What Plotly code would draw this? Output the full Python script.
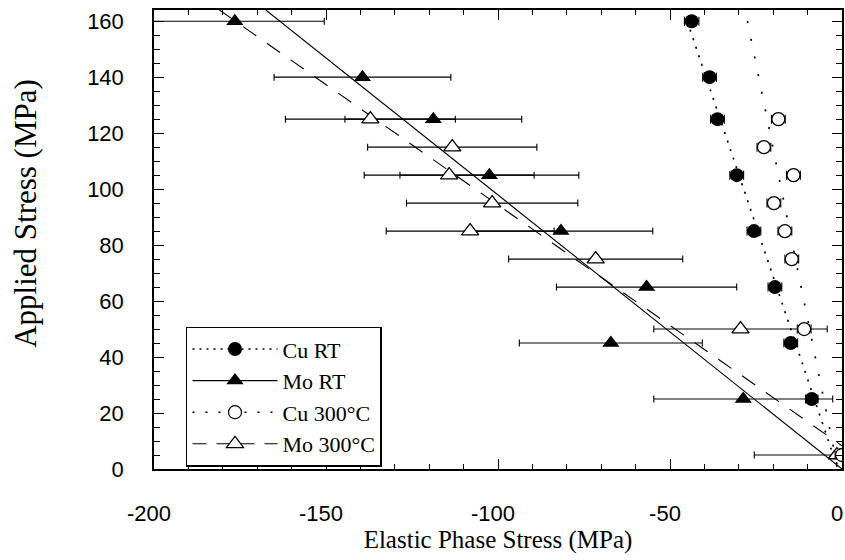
import plotly.graph_objects as go

# ---------------- data ----------------
cu_rt_y = [160, 140, 125, 105, 85, 65, 45, 25]
cu_rt_x = [-43.7, -38.5, -36.2, -30.6, -25.6, -19.5, -14.9, -8.8]
cu_rt_err = [2.1, 2.0, 2.0, 2.0, 2.0, 2.0, 2.0, 1.8]

mo_rt_y = [160, 140, 125, 105, 85, 65, 45, 25]
mo_rt_x = [-176.5, -139.4, -118.8, -102.5, -81.7, -56.8, -67.2, -28.7]
mo_rt_err = [26.0, 25.7, 25.7, 26.0, 26.7, 26.2, 26.6, 26.0]

cu300_y = [125, 115, 105, 95, 85, 75, 50, 5]
cu300_x = [-18.5, -22.7, -14.1, -19.8, -16.6, -14.6, -11.0, 0.0]
cu300_err = [2.0, 2.0, 2.0, 2.0, 2.0, 2.0, 2.0, 2.0]

mo300_y = [125, 115, 105, 95, 85, 75, 50, 5]
mo300_x = [-137.1, -113.3, -114.2, -101.7, -108.1, -71.6, -29.5, -1.5]
mo300_err = [24.7, 24.6, 24.7, 24.9, 24.4, 25.3, 25.2, 24.0]

# linear fit lines (end points)
cu_rt_fit_x = [-45.0, -1.2]
cu_rt_fit_y = [160, 0]
mo_rt_fit_x = [-167.5, 0.0]
mo_rt_fit_y = [164, 0]
cu300_fit_x = [-27.5, -1.2]
cu300_fit_y = [160, 0]
mo300_fit_x = [-181.0, 0.0]
mo300_fit_y = [164, 8.3]

names = ["Cu RT", "Mo RT", "Cu 300°C", "Mo 300°C"]

x_ticks = [-200, -150, -100, -50, 0]
y_ticks = [0, 20, 40, 60, 80, 100, 120, 140, 160]

# ---------------- styles ----------------
BLACK = "black"
DOT = "2px,7px"
SPARSE_DOT = "2px,16px"
DASH = "16px,13px"
SERIF = "Liberation Serif, Times New Roman, serif"
SANS = "Liberation Sans, Arial, sans-serif"

fig = go.Figure()

# fit lines
fig.add_trace(go.Scatter(x=cu_rt_fit_x, y=cu_rt_fit_y, mode="lines",
                         line=dict(color=BLACK, width=1.7, dash=DOT),
                         showlegend=False, hoverinfo="skip"))
fig.add_trace(go.Scatter(x=mo_rt_fit_x, y=mo_rt_fit_y, mode="lines",
                         line=dict(color=BLACK, width=1.1),
                         showlegend=False, hoverinfo="skip"))
fig.add_trace(go.Scatter(x=cu300_fit_x, y=cu300_fit_y, mode="lines",
                         line=dict(color=BLACK, width=1.7, dash=SPARSE_DOT),
                         showlegend=False, hoverinfo="skip"))
fig.add_trace(go.Scatter(x=mo300_fit_x, y=mo300_fit_y, mode="lines",
                         line=dict(color=BLACK, width=1.1, dash=DASH),
                         showlegend=False, hoverinfo="skip"))

err_style = dict(type="data", color=BLACK, thickness=1.1)

# data points with error bars
fig.add_trace(go.Scatter(x=mo_rt_x, y=mo_rt_y, mode="markers",
                         marker=dict(symbol="triangle-up", size=15, color=BLACK),
                         error_x=dict(array=mo_rt_err, width=3.5, **err_style),
                         showlegend=False))
fig.add_trace(go.Scatter(x=mo300_x, y=mo300_y, mode="markers",
                         marker=dict(symbol="triangle-up", size=15, color="white",
                                     line=dict(width=1.3, color=BLACK)),
                         error_x=dict(array=mo300_err, width=3.5, **err_style),
                         showlegend=False))
fig.add_trace(go.Scatter(x=cu_rt_x, y=cu_rt_y, mode="markers",
                         marker=dict(symbol="circle", size=14, color=BLACK),
                         error_x=dict(array=cu_rt_err, width=4.5, **err_style),
                         showlegend=False))
fig.add_trace(go.Scatter(x=cu300_x, y=cu300_y, mode="markers",
                         marker=dict(symbol="circle", size=13, color="white",
                                     line=dict(width=1.3, color=BLACK)),
                         error_x=dict(array=cu300_err, width=4.5, **err_style),
                         showlegend=False))

# legend entries (line style + marker)
legend_specs = [
    (names[0], dict(color=BLACK, width=1.4, dash="2px,5px"),
     dict(symbol="circle", size=14, color=BLACK)),
    (names[1], dict(color=BLACK, width=1.1),
     dict(symbol="triangle-up", size=15, color=BLACK)),
    (names[2], dict(color=BLACK, width=1.4, dash="2px,11px"),
     dict(symbol="circle", size=13, color="white", line=dict(width=1.2, color=BLACK))),
    (names[3], dict(color=BLACK, width=1.1, dash="14px,10px"),
     dict(symbol="triangle-up", size=15, color="white", line=dict(width=1.2, color=BLACK))),
]
for nm, ln, mk in legend_specs:
    fig.add_trace(go.Scatter(x=[None], y=[None], mode="lines+markers", name=nm,
                             line=ln, marker=mk))

axis_common = dict(
    showline=True, linecolor=BLACK, linewidth=1.5, mirror="allticks",
    ticks="inside", tickcolor=BLACK, tickwidth=1.2, ticklen=10,
    showgrid=False, zeroline=False,
    tickfont=dict(family=SANS, size=22, color=BLACK),
)

fig.update_xaxes(
    range=[-200, 0], tickvals=x_ticks, ticktext=[str(v) for v in x_ticks],
    minor=dict(dtick=10, ticks="inside", ticklen=5, tickcolor=BLACK, tickwidth=1.1),
    ticklabelstandoff=24, ticklabeloverflow="allow", ticklabelshift=-5,
    title=dict(text="Elastic Phase Stress (MPa)", standoff=4,
               font=dict(family=SERIF, size=25, color=BLACK)),
    automargin=False,
    **axis_common,
)
fig.update_yaxes(
    range=[0, 164], tickvals=y_ticks, ticktext=[str(v) for v in y_ticks],
    minor=dict(dtick=5, ticks="inside", ticklen=6, tickcolor=BLACK, tickwidth=1.1),
    ticklabelstandoff=24,
    automargin=False,
    **axis_common,
)

fig.add_annotation(text="Applied Stress (MPa)", textangle=-90,
                   xref="paper", yref="paper", x=-0.186, y=0.556,
                   xanchor="center", yanchor="middle", showarrow=False,
                   font=dict(family=SERIF, size=31, color=BLACK))

fig.update_layout(
    width=845, height=560,
    margin=dict(l=154, r=3, t=10, b=91),
    paper_bgcolor="white", plot_bgcolor="white",
    legend=dict(x=0.0465, y=0.31, xanchor="left", yanchor="top",
                bordercolor=BLACK, borderwidth=1.5, bgcolor="white",
                itemwidth=85, tracegroupgap=0,
                font=dict(family=SERIF, size=22, color=BLACK)),
    showlegend=True,
)

fig.write_html("out.html",
               config={"displayModeBar": False},
               post_script="document.body.style.margin='0px';document.body.style.overflow='hidden';")
